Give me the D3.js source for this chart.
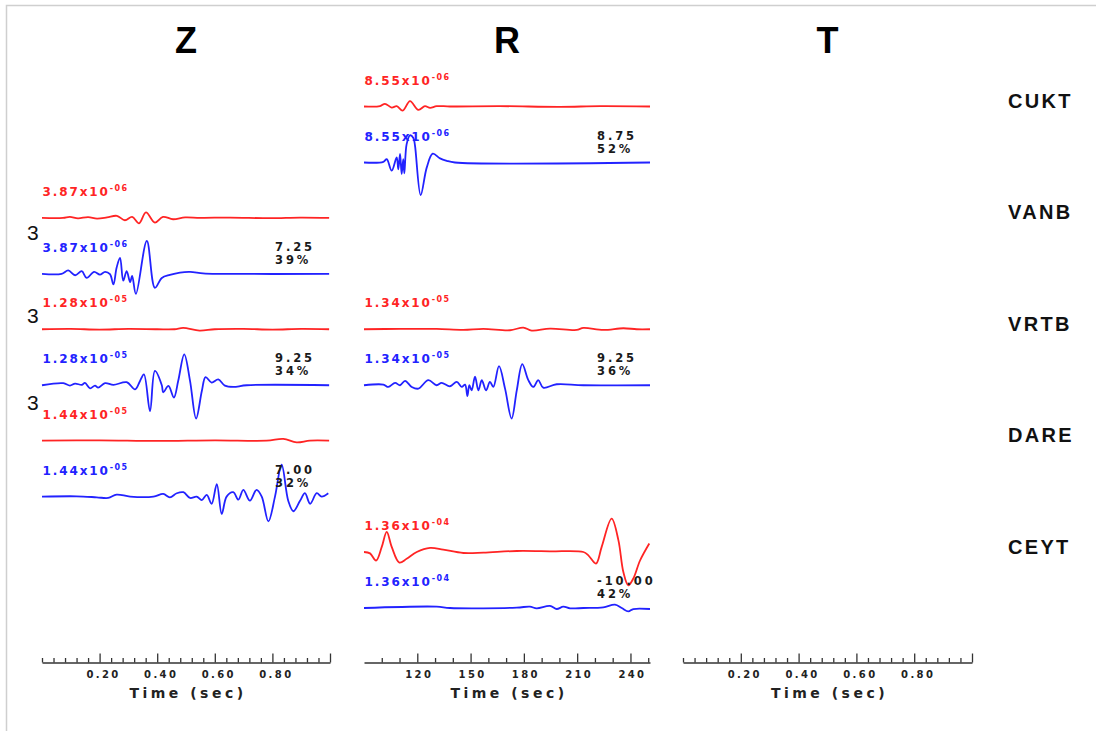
<!DOCTYPE html>
<html><head><meta charset="utf-8">
<script src="https://cdn.jsdelivr.net/npm/d3@7"></script>
<style>
html,body{margin:0;padding:0;background:#fff;}
svg{display:block;}
</style></head><body>
<script>
// ---------- data ----------
const stations = ["CUKT","VANB","VRTB","DARE","CEYT"];
const components = ["Z","R","T"];
const zTickLabels = [0.2,0.4,0.6,0.8];
const rTickLabels = [120,150,180,210,240];
const tTickLabels = [0.2,0.4,0.6,0.8];

// per fitted trace pair
const fitComp    = ["Z","Z","Z","R","R","R"];
const fitStation = ["VANB","VRTB","DARE","CUKT","VRTB","CEYT"];
const fitAmpMant = ["3.87","1.28","1.44","8.55","1.34","1.36"];
const fitAmpExp  = ["-06","-05","-05","-06","-05","-04"];
const fitShift   = ["7.25","9.25","7.00","8.75","9.25","-10.00"];
const fitPct     = ["39%","34%","32%","52%","36%","42%"];

// waveforms: [time, normalized amplitude]
const zVANBsyn = [[0,0],[0.073,0],[0.097,0.03],[0.125,-0.015],[0.16,0.024],[0.191,-0.02],[0.226,0.015],[0.26,0.06],[0.288,-0.07],[0.313,0.03],[0.337,-0.16],[0.361,0.16],[0.392,-0.14],[0.42,0.03],[0.455,-0.04],[0.497,0.015],[0.549,0],[0.653,0.01],[0.792,-0.01],[0.896,0.01],[0.997,0]];
const zVANBobs = [[0,0],[0.068,0],[0.091,0.1],[0.115,-0.04],[0.138,0.08],[0.155,-0.12],[0.181,0.06],[0.201,-0.02],[0.219,0.06],[0.236,-0.01],[0.248,-0.31],[0.259,0.18],[0.271,0.47],[0.282,-0.2],[0.294,0.08],[0.306,-0.24],[0.313,-0.06],[0.326,-0.59],[0.364,0.97],[0.392,-0.41],[0.416,-0.12],[0.444,-0.03],[0.479,0.04],[0.514,0.06],[0.559,0.015],[0.618,0],[0.997,0]];
const zVRTBsyn = [[0,0],[0.1,0.01],[0.2,-0.01],[0.3,0.01],[0.4,0],[0.46,0],[0.49,0.04],[0.547,-0.04],[0.6,0],[0.7,0.01],[0.8,-0.01],[0.9,0.01],[0.997,0]];
const zVRTBobs = [[0,0],[0.074,0.06],[0.097,-0.01],[0.115,0.05],[0.138,0.01],[0.149,0.07],[0.167,-0.09],[0.184,-0.01],[0.195,-0.07],[0.219,0.06],[0.248,0.01],[0.294,0.09],[0.323,-0.12],[0.34,0.12],[0.354,0.32],[0.375,-0.76],[0.392,0.42],[0.416,0],[0.421,-0.21],[0.439,-0.02],[0.458,-0.36],[0.473,0.13],[0.494,0.91],[0.514,0.13],[0.535,-0.98],[0.555,-0.17],[0.568,0.24],[0.589,0.08],[0.612,0.17],[0.635,-0.01],[0.664,-0.05],[0.711,0],[0.997,0]];
const zDAREsyn = [[0,0],[0.2,0.01],[0.4,-0.01],[0.6,0.01],[0.78,0],[0.838,0.05],[0.884,-0.05],[0.93,0],[0.997,0]];
const zDAREobs = [[0,0],[0.12,0.01],[0.19,-0.02],[0.23,-0.04],[0.259,0.06],[0.306,0],[0.387,0],[0.421,0.08],[0.444,-0.02],[0.468,0.1],[0.491,0.13],[0.514,-0.04],[0.537,0],[0.555,-0.1],[0.572,0.05],[0.589,-0.21],[0.607,0.37],[0.624,-0.51],[0.641,0],[0.664,0.13],[0.682,-0.09],[0.699,0.2],[0.722,-0.12],[0.745,0.2],[0.763,0],[0.786,-0.73],[0.809,0],[0.832,0.94],[0.855,-0.12],[0.873,-0.43],[0.896,-0.12],[0.913,0.1],[0.931,-0.21],[0.954,0.1],[0.971,0],[0.994,0.1]];
const rCUKTsyn = [[90,0],[99,0.01],[101.8,0.08],[105.6,-0.03],[108.4,0.01],[111.8,-0.12],[115.9,0.16],[120.6,-0.1],[124.3,0.01],[127.2,-0.04],[130.9,0.01],[138.4,0],[166.6,0.01],[200.3,-0.01],[222.9,0.01],[251,0]];
const rCUKTobs = [[90,0],[100.9,0.02],[102.8,0.1],[105.6,-0.24],[108.4,0.15],[109.3,-0.2],[110.3,0.25],[111.2,-0.34],[112.1,0.1],[112.7,-0.32],[114,0.54],[115.9,0.8],[117.8,0.72],[118.7,0.5],[121.9,-0.96],[125.3,-0.15],[128.7,0.26],[132.8,0.12],[136.6,0.05],[141.2,0],[251,0]];
const rVRTBsyn = [[90,0],[110.3,0.01],[130.9,0.01],[145.9,-0.02],[157.2,0.01],[172.2,-0.03],[179.7,0.05],[184.4,-0.04],[194.7,0.02],[209.7,-0.02],[213.5,0.04],[224.7,-0.02],[236,0.03],[243.5,0],[251,0]];
const rVRTBobs = [[90,0],[100.9,0.02],[103.7,-0.05],[107.5,0.07],[110.3,0],[113.1,0.13],[116.9,-0.05],[120.6,-0.1],[126.2,0.15],[130.9,0],[133.7,0.07],[138.4,-0.03],[142.2,0.1],[145,-0.05],[146.9,0.02],[148.2,-0.32],[149.3,0],[150.6,-0.15],[152.5,0.25],[154.4,-0.15],[156.3,0.15],[158.7,-0.15],[160.9,0.1],[162.8,-0.05],[166,0.56],[169.4,-0.1],[173.1,-0.98],[176,-0.15],[179.1,0.62],[182.5,0.15],[185.3,-0.05],[188.1,0.15],[190.9,-0.07],[198.5,0.03],[213.5,0],[251,0]];
const rCEYTsyn = [[90,0],[93.4,-0.04],[96.8,-0.25],[100,0.15],[102.8,0.59],[105.6,0.15],[109.9,-0.31],[114,-0.2],[119.7,0],[127.2,0.12],[134.6,0.07],[145.9,-0.03],[157.2,-0.02],[176,0.03],[194.7,0.02],[213.5,0],[216.3,-0.1],[220.6,-0.34],[223.8,0.15],[229.4,0.98],[233.2,0.35],[236,-0.59],[238.8,-0.98],[241.6,-0.78],[245.4,-0.25],[250.6,0.25]];
const rCEYTobs = [[90,0],[130.9,0.04],[138.4,0],[176,0.01],[183.4,0.04],[187.2,-0.01],[194.7,0.06],[198.5,-0.03],[202.2,0.04],[206,-0.01],[213.5,0],[224.7,0.02],[231.3,0.1],[235.1,0],[238.8,-0.1],[241.6,-0.03],[251,-0.03]];

const synTraces = [zVANBsyn, zVRTBsyn, zDAREsyn, rCUKTsyn, rVRTBsyn, rCEYTsyn];
const obsTraces = [zVANBobs, zVRTBobs, zDAREobs, rCUKTobs, rVRTBobs, rCEYTobs];

// ---------- layout ----------
const W = 1096, H = 731;
const RED = "#ff2424", BLUE = "#2222ff";
const FONT = "'Liberation Sans', Arial, Helvetica, sans-serif";
const PFONT = "'DejaVu Sans', Verdana, sans-serif";
const svg = d3.select("body").append("svg").attr("width", W).attr("height", H);

svg.append("rect").attr("x",6.5).attr("y",5.5).attr("width",W).attr("height",H)
  .attr("fill","none").attr("stroke","#cfcfcf").attr("stroke-width",1.5);

const xScales = {
  Z: d3.scaleLinear().domain([0,1]).range([42,330]),
  R: d3.scaleLinear().domain([90,251]).range([364,650]),
  T: d3.scaleLinear().domain([0,1]).range([683,972])
};
const rowY = d3.scaleLinear().domain([0,4]).range([106.5,552]);
const obsOffset = 56;
const amp = d3.scaleLinear().domain([-1,1]).range([34,-34]);
const axisY = 662.5;

// titles
components.forEach(c => {
  const sc = xScales[c];
  const cx = (sc.range()[0] + sc.range()[1]) / 2;
  svg.append("text").attr("x", cx).attr("y", 53).attr("text-anchor","middle")
    .attr("font-family", FONT).attr("font-weight","bold").attr("font-size",36)
    .text(c);
});

// station labels
stations.forEach((s,i) => {
  svg.append("text").attr("x",1008).attr("y",rowY(i)+1.5)
    .attr("font-family",FONT).attr("font-weight","bold").attr("font-size",20)
    .attr("letter-spacing",2.3).attr("fill","#111").text(s);
});

// traces and labels
fitComp.forEach((c,k) => {
  const sc = xScales[c];
  const i = stations.indexOf(fitStation[k]);
  const ySyn = rowY(i), yObs = rowY(i) + obsOffset;
  const mk = base => d3.line().x(d => sc(d[0])).y(d => base + amp(d[1])).curve(d3.curveCatmullRom.alpha(0.5));
  svg.append("path").attr("d", mk(ySyn)(synTraces[k])).attr("fill","none")
    .attr("stroke",RED).attr("stroke-width",1.8).attr("stroke-linejoin","round");
  svg.append("path").attr("d", mk(yObs)(obsTraces[k])).attr("fill","none")
    .attr("stroke",BLUE).attr("stroke-width",1.8).attr("stroke-linejoin","round");

  [[ySyn,RED],[yObs,BLUE]].forEach(([yb,col]) => {
    const t = svg.append("text").attr("x", sc.range()[0] + 0.5).attr("y", yb - 22)
      .attr("font-family",PFONT).attr("font-weight","bold").attr("font-size",12)
      .attr("letter-spacing",1.9).attr("fill",col);
    t.append("tspan").text(fitAmpMant[k] + "x10");
    t.append("tspan").attr("dy",-5).attr("font-size",8).attr("letter-spacing",1.4).text(fitAmpExp[k]);
  });

  const sx = sc.range()[0] + 233;
  const mkStat = (y, txt) => svg.append("text").attr("x",sx).attr("y",y)
    .attr("font-family",PFONT).attr("font-weight","bold").attr("font-size",11.5)
    .attr("letter-spacing",2.9).attr("fill","#1a1a1a").text(txt);
  mkStat(yObs - 23, fitShift[k]);
  mkStat(yObs - 10, fitPct[k]);
});

// stray "3" marks
[[27,240],[27,323],[27,410]].forEach(([x,y]) => {
  svg.append("text").attr("x",x).attr("y",y).attr("font-family",FONT)
    .attr("font-size",21).attr("fill","#111").text("3");
});

// axes
function drawAxis(c, minor, major, labels, fmt, dx) {
  const sc = xScales[c];
  const g = svg.append("g").attr("transform",`translate(0,${axisY})`);
  g.append("g").call(d3.axisTop(sc).tickValues(minor).tickSizeInner(4.5).tickSizeOuter(0).tickFormat(""))
    .call(a => a.select(".domain").attr("stroke","#333").attr("stroke-width",1.5))
    .call(a => a.selectAll(".tick line").attr("stroke","#333").attr("stroke-width",1.3));
  g.append("g").call(d3.axisTop(sc).tickValues(major).tickSizeInner(9).tickSizeOuter(0).tickFormat(""))
    .call(a => a.select(".domain").remove())
    .call(a => a.selectAll(".tick line").attr("stroke","#333").attr("stroke-width",1.3));
  labels.forEach(v => {
    g.append("text").attr("x", sc(v) + dx).attr("y", 15).attr("text-anchor","middle")
      .attr("font-family",PFONT).attr("font-weight","bold").attr("font-size",10)
      .attr("letter-spacing",2.4).attr("fill","#222").text(fmt(v));
  });
  const r = sc.range();
  g.append("text").attr("x",(r[0]+r[1])/2 + 2).attr("y",35.5).attr("text-anchor","middle")
    .attr("font-family",PFONT).attr("font-weight","bold").attr("font-size",14)
    .attr("letter-spacing",3.5).attr("fill","#222").text("Time (sec)");
}
const frac = d3.format(".2f");
const isMajor02 = v => Math.abs(v/0.2 - Math.round(v/0.2)) < 1e-6;
drawAxis("Z", d3.range(0,1.0001,0.04).filter(v => !isMajor02(v) || v < 0.01), [0.2,0.4,0.6,0.8,1.0], zTickLabels, frac, 4);
drawAxis("R", d3.range(100,251,10).filter(v => v % 30 !== 0), [120,150,180,210,240], rTickLabels, d3.format("d"), 2);
drawAxis("T", d3.range(0,1.0001,0.04).filter(v => !isMajor02(v) || v < 0.01), [0.2,0.4,0.6,0.8,1.0], tTickLabels, frac, 4);
</script>
</body></html>
